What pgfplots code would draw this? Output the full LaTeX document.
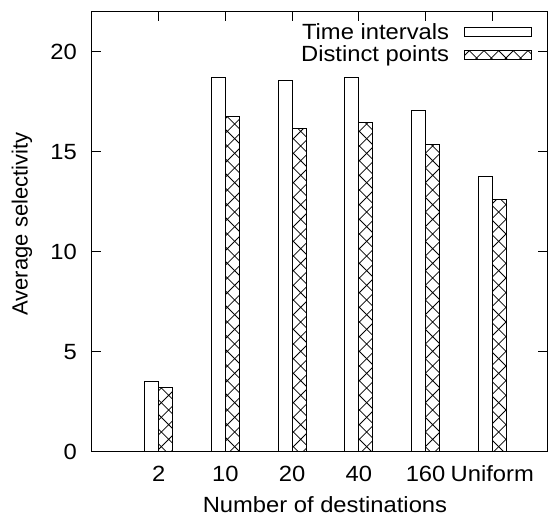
\documentclass[border=0pt]{standalone}
\usepackage{fontspec}
\setmainfont{Liberation Sans}[FakeStretch=1.08]
\newfontfamily\ylfont{Liberation Sans}
\usepackage{pgfplots}
\pgfplotsset{compat=1.18}
\usetikzlibrary{patterns}
\pgfdeclarepatternformonly{xhatch}{\pgfqpoint{-1pt}{-1pt}}{\pgfqpoint{12pt}{12pt}}{\pgfqpoint{11pt}{11pt}}{%
  \pgfsetlinewidth{0.6pt}%
  \pgfpathmoveto{\pgfqpoint{0pt}{0pt}}\pgfpathlineto{\pgfqpoint{11pt}{11pt}}%
  \pgfpathmoveto{\pgfqpoint{0pt}{11pt}}\pgfpathlineto{\pgfqpoint{11pt}{0pt}}%
  \pgfusepath{stroke}}
\begin{document}
\begin{tikzpicture}
\useasboundingbox (-69pt,-51pt) rectangle (345.75pt,339pt);
\begin{axis}[
  at={(0,0)}, anchor=south west,
  scale only axis,
  width=341.25pt, height=330pt,
  xmin=0, xmax=6.82, ymin=0, ymax=22,
  xtick={1,2,3,4,5,6},
  xticklabels={2,10,20,40,160,Uniform},
  ytick={0,5,10,15,20},
  tick align=inside,
  major tick length=6.75pt,
  tick style={black, line width=0.75pt},
  axis line style={line width=0.75pt},
  font=\fontsize{16.5}{19.8}\selectfont,
  /pgf/number format/assume math mode=true,
  xticklabel style={anchor=base, inner sep=0pt, yshift=-22.5pt},
  yticklabel style={anchor=east, inner sep=0pt, xshift=-11.25pt},
  xlabel={Number of destinations},
  ylabel={\ylfont Average selectivity},
  xlabel style={at={(axis description cs:0.512,-0.1386)}, anchor=base, inner sep=0pt},
  ylabel style={at={(axis description cs:-0.154,0.518)}, anchor=center, inner sep=0pt},
  legend style={draw=none, fill=none, at={(axis description cs:0.967,0.975)}, anchor=north east,
    inner sep=0pt, nodes={inner sep=0pt}, legend cell align=right,
    font=\fontsize{16.5}{19.8}\selectfont, row sep=3.5pt, column sep=11.25pt},
  legend plot pos=right,
]
\addplot[ybar, bar width=0.21, bar shift=-0.105, draw=black, line width=0.75pt, fill=white,
  legend image code/.code={\draw[black, line width=0.75pt, fill=white] (0pt,-3.4pt) rectangle (50pt,3.4pt);}]
  coordinates {(1,3.5) (2,18.7) (3,18.55) (4,18.7) (5,17.05) (6,13.75)};
\addlegendentry{Time intervals}
\addplot[ybar, bar width=0.21, bar shift=0.105, draw=black, line width=0.75pt, pattern=xhatch,
  legend image code/.code={\draw[black, line width=0.75pt, pattern=xhatch] (0pt,-3.4pt) rectangle (50pt,3.4pt);}]
  coordinates {(1,3.2) (2,16.75) (3,16.15) (4,16.45) (5,15.35) (6,12.6)};
\addlegendentry{Distinct points}
\end{axis}
\end{tikzpicture}
\end{document}
